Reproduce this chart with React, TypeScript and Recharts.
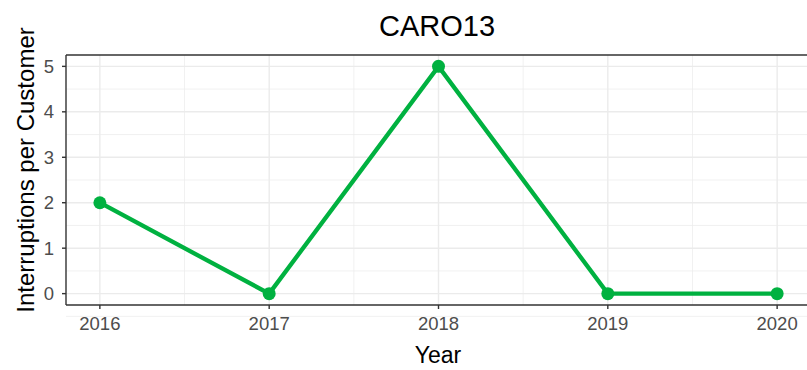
import React from "react";
import { LineChart, Line, XAxis, YAxis, CartesianGrid, ReferenceLine } from "recharts";

const years = [2016, 2017, 2018, 2019, 2020];
const interruptions = [2, 0, 5, 0, 0];
const xTicks = [2016, 2017, 2018, 2019, 2020];
const yTicks = [0, 1, 2, 3, 4, 5];
const xMinor = [2015.5, 2016.5, 2017.5, 2018.5, 2019.5, 2020.5];
const yMinor = [-0.5, 0.5, 1.5, 2.5, 3.5, 4.5];
const title = "CARO13";
const xTitle = "Year";
const yTitle = "Interruptions per Customer";

const data = years.map((y, i) => ({ year: y, value: interruptions[i] }));

const FONT = "Liberation Sans, Arial, sans-serif";

export default function App() {
  return (
    <div style={{ position: "absolute", left: 0, top: 0, width: 807, height: 370, overflow: "hidden", background: "#fff" }}>
      <LineChart width={812} height={370} data={data} margin={{ top: 55, right: 1, bottom: 35, left: 0 }}>
        <text x={437} y={36} textAnchor="middle" fontFamily={FONT} fontSize={29} fill="#000">{title}</text>
        <text x={438} y={363} textAnchor="middle" fontFamily={FONT} fontSize={23} fill="#000">{xTitle}</text>
        <text x={34} y={170} textAnchor="middle" fontFamily={FONT} fontSize={24} fill="#000" transform="rotate(-90 34 170)">{yTitle}</text>
        <CartesianGrid stroke="#EBEBEB" strokeWidth={0.7} horizontalValues={yMinor} verticalValues={xMinor} />
        <CartesianGrid stroke="#EBEBEB" strokeWidth={1.4} horizontalValues={yTicks} verticalValues={xTicks} />
        <XAxis
          dataKey="year"
          type="number"
          domain={[2015.8, 2020.2]}
          ticks={xTicks}
          allowDataOverflow
          height={30}
          tickSize={4}
          tickMargin={8}
          axisLine={{ stroke: "#333333", strokeWidth: 1.4 }}
          tickLine={{ stroke: "#333333", strokeWidth: 1.4 }}
          tick={{ fill: "#4D4D4D", fontSize: 18.5, fontFamily: FONT }}
        />
        <YAxis
          type="number"
          domain={[-0.25, 5.25]}
          ticks={yTicks}
          allowDataOverflow
          width={66}
          tickSize={4}
          tickMargin={8}
          axisLine={{ stroke: "#333333", strokeWidth: 1.4 }}
          tickLine={{ stroke: "#333333", strokeWidth: 1.4 }}
          tick={{ fill: "#4D4D4D", fontSize: 18.5, fontFamily: FONT }}
        />
        <ReferenceLine y={5.25} stroke="#333333" strokeWidth={1.4} />
        <Line
          type="linear"
          dataKey="value"
          stroke="#00B140"
          strokeWidth={4.3}
          dot={{ r: 6.5, fill: "#00B140", stroke: "none" }}
          isAnimationActive={false}
        />
      </LineChart>
    </div>
  );
}
